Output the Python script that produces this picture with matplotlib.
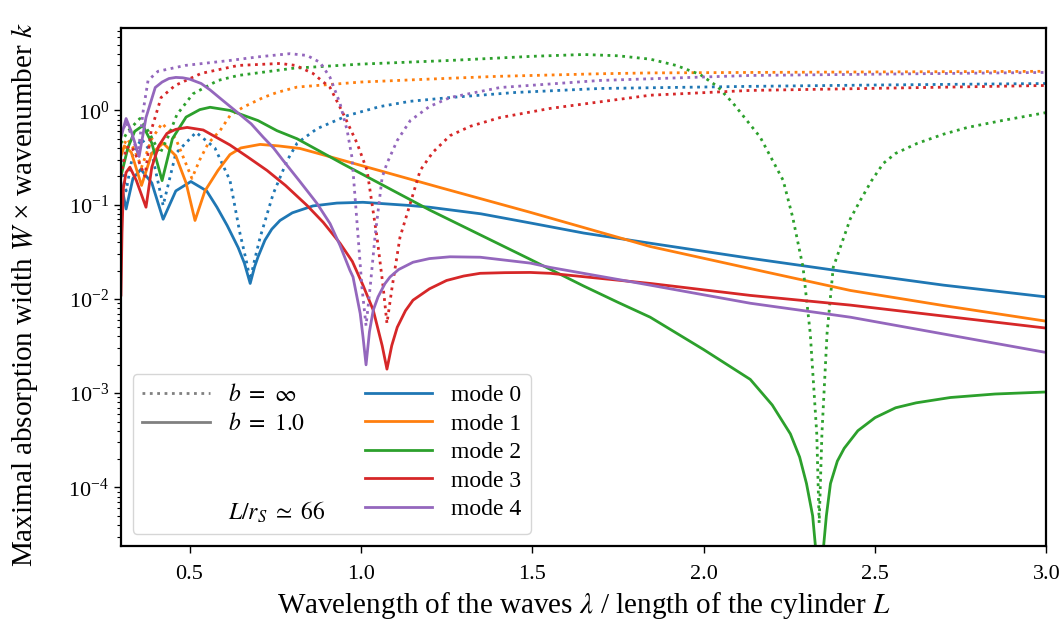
import numpy as np
import matplotlib
matplotlib.use("Agg")
import matplotlib.pyplot as plt
from matplotlib.lines import Line2D

plt.rcParams['font.family'] = 'serif'
plt.rcParams['font.serif'] = ['Liberation Serif', 'DejaVu Serif']
plt.rcParams['mathtext.fontset'] = 'stix'

# ratio wavelength / cylinder length, absorption width * k
# mode 0
x0_inf = [0.300, 0.315, 0.335, 0.36, 0.39, 0.423, 0.46, 0.519, 0.574, 0.618, 0.647, 0.665, 0.677,
          0.69, 0.706, 0.744, 0.785, 0.814, 0.872, 0.96, 1.056, 1.144, 1.26, 1.45, 1.698, 2.136, 2.5, 3.0]
y0_inf = [0.3, 0.14, 0.35, 0.5, 0.35, 0.098, 0.35, 0.585, 0.40, 0.181, 0.05, 0.026, 0.016,
          0.026, 0.045, 0.13, 0.295, 0.45, 0.64, 0.88, 1.10, 1.25, 1.37, 1.55, 1.71, 1.80, 1.86, 1.93]
x0_b1 = [0.300, 0.315, 0.335, 0.358, 0.39, 0.423, 0.46, 0.504, 0.55, 0.58, 0.61, 0.642, 0.66, 0.677,
         0.69, 0.70, 0.72, 0.74, 0.764, 0.80, 0.86, 0.93, 1.006, 1.143, 1.20, 1.35, 1.494, 1.65, 1.844,
         2.136, 2.428, 2.7, 3.0]
y0_b1 = [0.17, 0.09, 0.19, 0.237, 0.17, 0.070, 0.14, 0.176, 0.14, 0.094, 0.06, 0.035, 0.024, 0.0146,
         0.022, 0.028, 0.042, 0.055, 0.068, 0.082, 0.097, 0.104, 0.106, 0.098, 0.094, 0.08, 0.064, 0.05, 0.039,
         0.027, 0.0191, 0.014, 0.0105]

# mode 1
x1_inf = [0.300, 0.318, 0.34, 0.36, 0.39, 0.42, 0.46, 0.507, 0.53, 0.555, 0.589, 0.618, 0.656, 0.715,
          0.755, 0.814, 1.0, 1.2, 1.4, 1.7, 1.844, 2.136, 2.5, 3.0]
y1_inf = [0.38, 0.50, 0.38, 0.25, 0.5, 0.73, 0.5, 0.19, 0.3, 0.45, 0.61, 0.88, 1.08, 1.37,
          1.55, 1.77, 2.0, 2.15, 2.3, 2.45, 2.5, 2.53, 2.56, 2.6]
x1_b1 = [0.300, 0.31, 0.33, 0.36, 0.39, 0.423, 0.46, 0.49, 0.516, 0.545, 0.583, 0.618, 0.65, 0.706,
         0.76, 0.822, 0.881, 1.036, 1.231, 1.494, 1.844, 2.136, 2.428, 2.7, 3.0]
y1_b1 = [0.33, 0.42, 0.36, 0.16, 0.35, 0.45, 0.33, 0.17, 0.068, 0.14, 0.231, 0.34, 0.40, 0.436,
         0.42, 0.395, 0.345, 0.24, 0.152, 0.083, 0.036, 0.021, 0.0123, 0.0085, 0.0058]

# mode 2
x2_inf = [0.300, 0.32, 0.355, 0.38, 0.414, 0.44, 0.463, 0.51, 0.583, 0.642, 0.802, 1.0, 1.26, 1.5,
          1.65, 1.75, 1.844, 1.92, 1.99, 2.04, 2.086, 2.165, 2.232, 2.26, 2.29, 2.311, 2.330, 2.337,
          2.345, 2.36, 2.378, 2.428, 2.457, 2.49, 2.524, 2.56, 2.623, 2.7, 2.77, 2.87, 3.0]
y2_inf = [0.45, 0.6, 0.82, 0.6, 0.35, 0.55, 0.9, 1.5, 2.08, 2.35, 2.8, 3.1, 3.39, 3.75,
          3.92, 3.8, 3.5, 3.0, 2.4, 1.8, 1.19, 0.52, 0.181, 0.073, 0.0216, 0.0043, 3.7e-4, 4.2e-5,
          3.7e-4, 0.0043, 0.0216, 0.071, 0.111, 0.18, 0.274, 0.35, 0.447, 0.56, 0.66, 0.78, 0.95]
x2_b1 = [0.300, 0.32, 0.34, 0.364, 0.39, 0.42, 0.45, 0.49, 0.53, 0.56, 0.618, 0.70, 0.755, 0.814,
         0.948, 1.2, 1.35, 1.494, 1.65, 1.75, 1.844, 2.0, 2.136, 2.2, 2.253, 2.28, 2.30, 2.318, 2.328,
         2.338, 2.348, 2.358, 2.37, 2.39, 2.41, 2.45, 2.5, 2.56, 2.62, 2.72, 2.85, 3.0]
y2_b1 = [0.2, 0.4, 0.6, 0.69, 0.45, 0.18, 0.5, 0.85, 1.02, 1.08, 1.0, 0.78, 0.61, 0.5,
         0.27, 0.088, 0.0475, 0.0263, 0.0137, 0.0092, 0.0064, 0.0029, 0.0014, 7.5e-4, 3.7e-4, 2.1e-4, 1.1e-4,
         5e-5, 2e-5, 1e-7, 2e-5, 5e-5, 1.1e-4, 1.9e-4, 2.6e-4, 4.0e-4, 5.5e-4, 7.0e-4, 7.9e-4, 9.0e-4,
         9.8e-4, 1.03e-3]

# mode 3
x3_inf = [0.300, 0.315, 0.33, 0.35, 0.37, 0.388, 0.417, 0.458, 0.534, 0.642, 0.764, 0.81, 0.86, 0.91,
          0.948, 0.989, 1.018, 1.047, 1.065, 1.076, 1.091, 1.114, 1.144, 1.173, 1.21, 1.26, 1.32, 1.406,
          1.552, 1.844, 2.136, 3.0]
y3_inf = [0.2, 0.4, 0.42, 0.3, 0.2, 0.61, 1.37, 1.84, 2.47, 3.0, 3.15, 3.0, 2.47, 1.75,
          0.93, 0.447, 0.231, 0.045, 0.0133, 0.0055, 0.0133, 0.045, 0.103, 0.231, 0.36, 0.54, 0.68, 0.84,
          1.05, 1.45, 1.63, 1.84]
x3_b1 = [0.300, 0.303, 0.307, 0.315, 0.326, 0.345, 0.373, 0.39, 0.41, 0.434, 0.46, 0.493, 0.54, 0.618,
         0.67, 0.726, 0.78, 0.843, 0.89, 0.939, 0.975, 1.006, 1.036, 1.062, 1.076, 1.09, 1.106, 1.13,
         1.152, 1.2, 1.25, 1.3, 1.348, 1.42, 1.494, 1.552, 1.844, 2.136, 2.428, 3.0]
y3_b1 = [0.011, 0.05, 0.15, 0.22, 0.25, 0.18, 0.094, 0.25, 0.42, 0.57, 0.63, 0.66, 0.62, 0.43,
         0.32, 0.231, 0.16, 0.098, 0.065, 0.039, 0.025, 0.014, 0.0076, 0.0032, 0.0018, 0.0032, 0.005, 0.0075,
         0.0097, 0.0128, 0.0157, 0.0175, 0.0187, 0.019, 0.0191, 0.0187, 0.0146, 0.0109, 0.0086, 0.0049]

# mode 4
x4_inf = [0.300, 0.315, 0.33, 0.35, 0.365, 0.379, 0.408, 0.487, 0.618, 0.70, 0.793, 0.843, 0.881,
          0.91, 0.939, 0.96, 0.974, 0.992, 1.003, 1.015, 1.027, 1.041, 1.062, 1.076, 1.106, 1.144,
          1.2, 1.26, 1.406, 1.698, 2.136, 3.0]
y4_inf = [0.55, 0.75, 0.55, 0.35, 1.0, 2.08, 2.6, 3.0, 3.39, 3.7, 4.0, 3.83, 3.23,
          2.24, 1.19, 0.61, 0.317, 0.045, 0.0133, 0.0052, 0.0133, 0.045, 0.195, 0.274, 0.48, 0.78,
          1.1, 1.37, 1.75, 2.08, 2.35, 2.53]
x4_b1 = [0.300, 0.315, 0.33, 0.353, 0.373, 0.40, 0.42, 0.44, 0.46, 0.48, 0.50, 0.534, 0.56, 0.60,
         0.64, 0.68, 0.715, 0.745, 0.773, 0.82, 0.872, 0.91, 0.939, 0.968, 0.977, 0.998, 1.006, 1.015,
         1.025, 1.036, 1.05, 1.07, 1.085, 1.11, 1.152, 1.2, 1.26, 1.348, 1.494, 1.552, 1.844, 2.136,
         2.428, 3.0]
y4_b1 = [0.52, 0.82, 0.6, 0.325, 0.84, 1.75, 2.0, 2.18, 2.24, 2.22, 2.15, 1.93, 1.65, 1.25,
         0.95, 0.72, 0.52, 0.40, 0.295, 0.18, 0.103, 0.063, 0.037, 0.0201, 0.0171, 0.007, 0.004, 0.002,
         0.0045, 0.0076, 0.0105, 0.0145, 0.0171, 0.0205, 0.0245, 0.0268, 0.028, 0.0277, 0.024, 0.0216,
         0.014, 0.009, 0.0064, 0.0027]

modes = [
    (x0_inf, y0_inf, x0_b1, y0_b1),
    (x1_inf, y1_inf, x1_b1, y1_b1),
    (x2_inf, y2_inf, x2_b1, y2_b1),
    (x3_inf, y3_inf, x3_b1, y3_b1),
    (x4_inf, y4_inf, x4_b1, y4_b1),
]
mode_labels = ['mode 0', 'mode 1', 'mode 2', 'mode 3', 'mode 4']
colors = ['C0', 'C1', 'C2', 'C3', 'C4']

fig = plt.figure(figsize=(10.63, 6.21), dpi=100)
ax = fig.add_axes([0.1138, 0.121, 0.8706, 0.834])

for (xi, yi, xb, yb), c in zip(modes, colors):
    ax.plot(xi, yi, ':', color=c, lw=2.0)
    ax.plot(xb, yb, '-', color=c, lw=2.0)

ax.set_yscale('log')
ax.set_xlim(0.3, 3.0)
ax.set_ylim(2.4e-5, 7.5)
ax.set_xticks([0.5, 1.0, 1.5, 2.0, 2.5, 3.0])
ax.set_xticklabels(['0.5', '1.0', '1.5', '2.0', '2.5', '3.0'])
ax.tick_params(axis='both', which='major', labelsize=16, length=5, width=1.0)
ax.tick_params(axis='both', which='minor', length=3, width=0.8)
ax.tick_params(axis='x', which='major', pad=9)
for s in ax.spines.values():
    s.set_linewidth(1.6)

ax.set_xlabel(r'Wavelength of the waves $\lambda$ / length of the cylinder $L$', fontsize=21)
ax.set_ylabel('Maximal absorption width $W$ \u00d7 wavenumber $k$', fontsize=21)
ax.yaxis.set_label_coords(-0.088, 0.485)

# legend: line styles on the left, modes on the right
blank = Line2D([], [], color='none')
handles = [Line2D([], [], color='gray', ls=':', lw=2.0),
           Line2D([], [], color='gray', ls='-', lw=2.0),
           blank, blank, blank]
labels = [r'$b\ =\ \infty$', r'$b\ =\ 1.0$', ' ', ' ', r'$L/r_S\ \simeq\ 66$']
for c, lab in zip(colors, mode_labels):
    handles.append(Line2D([], [], color=c, lw=2.0))
    labels.append(lab)
ax.legend(handles, labels, ncol=2, loc='lower left', fontsize=17,
          handlelength=2.85, columnspacing=1.65, labelspacing=0.3)

fig.savefig('out.png', dpi=100)
